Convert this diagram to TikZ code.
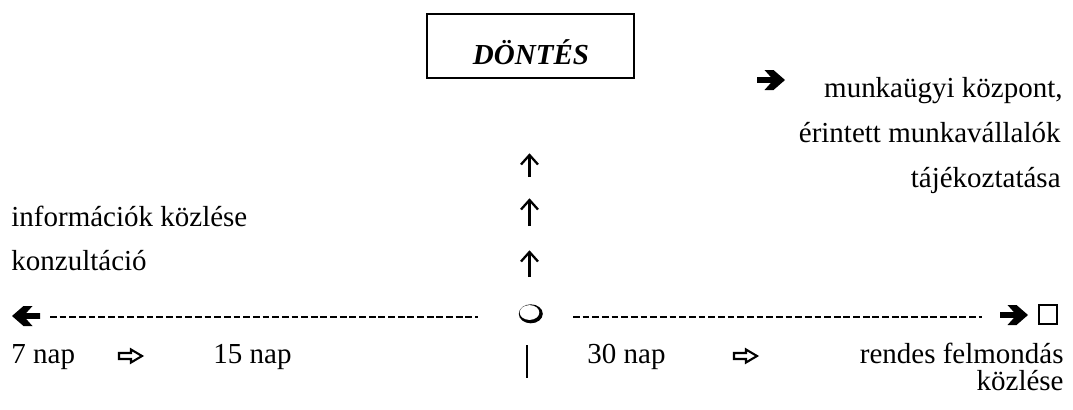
\documentclass[tikz,border=0pt]{standalone}
\usepackage{fontspec}
\setmainfont{Liberation Serif}
\begin{document}
\begin{tikzpicture}[x=0.5pt,y=-0.5pt,
  txt/.style={inner sep=0pt,font=\fontsize{14.5pt}{17pt}\selectfont},
  lw/.style={txt,anchor=base west},
  le/.style={txt,anchor=base east},
  upglyph/.style={line width=1.15pt,line cap=butt,line join=miter},
  hyphenline/.style={line width=1.1pt,dash pattern=on 3.4pt off 1.43pt},
  hollowarrow/.style={line width=1.05pt,line join=miter,fill=white},
  boldarrow/.pic={\fill (0,-2.8) -- (14,-2.8) -- (7.5,-10) -- (16.5,-10)
      -- (28,0) -- (16.5,10) -- (7.5,10) -- (14,2.8) -- (0,2.8) -- cycle;},
  whitearrow/.pic={\draw[hollowarrow] (0,-3) -- (12,-3) -- (12,-6.5) -- (23,0)
      -- (12,6.5) -- (12,3) -- (0,3) -- cycle;}]
\useasboundingbox (0,0) rectangle (1073,409);

% decision box
\node[draw,line width=1pt,minimum width=103.5pt,minimum height=32pt,inner sep=0pt]
  (box) at (530.5,46) {};
\node[txt,anchor=base] (dontes) at (531,64) {\bfseries\itshape DÖNTÉS};

% notification text on the right
\pic at (757,80) {boldarrow};
\node[le] (t1) at (1063,97) {munkaügyi központ,};
\node[le] (t2) at (1061,142) {érintett munkavállalók};
\node[le] (t3) at (1061,187) {tájékoztatása};

% steps on the left
\node[lw] (l1) at (11,226) {információk közlése};
\node[lw] (l2) at (11,270) {konzultáció};

% upward arrows towards the decision
\foreach \ya/\yb in {177/155, 226/200, 277/252}{
  \draw[upglyph] (529.5,\ya) -- (529.5,\yb+1);
  \draw[upglyph] (521,\yb+9.5) -- (529.5,\yb) -- (538,\yb+9.5);
}

% centre point of the time line
\coordinate (c) at (530,313);
\fill (530.8,313.8) ellipse (12 and 9.5);
\fill[white] (529.5,312.5) ellipse (9.8 and 7.4);

% time line
\coordinate (la) at (50,317);
\coordinate (lb) at (478,317);
\coordinate (ra) at (573,317);
\coordinate (rb) at (982,317);
\draw[hyphenline] (la) -- (lb);
\draw[hyphenline] (ra) -- (rb);
\pic[rotate=180] at (40,316) {boldarrow};
\pic at (1000,315) {boldarrow};
\node[draw,line width=0.9pt,minimum width=9.1pt,minimum height=9.8pt,inner sep=0pt]
  (sq) at (1048,314.5) {};

% day counts
\draw[line width=1.3pt] (527,345) -- (527,378);
\node[lw] (d7) at (11,363) {7 nap};
\pic at (119,356) {whitearrow};
\node[lw] (d15) at (213,363) {15 nap};
\node[lw] (d30) at (587,363) {30 nap};
\pic at (734,356) {whitearrow};
\node[le] (r1) at (1064,363) {rendes felmondás};
\node[le] (r2) at (1064,390) {közlése};
\end{tikzpicture}
\end{document}
